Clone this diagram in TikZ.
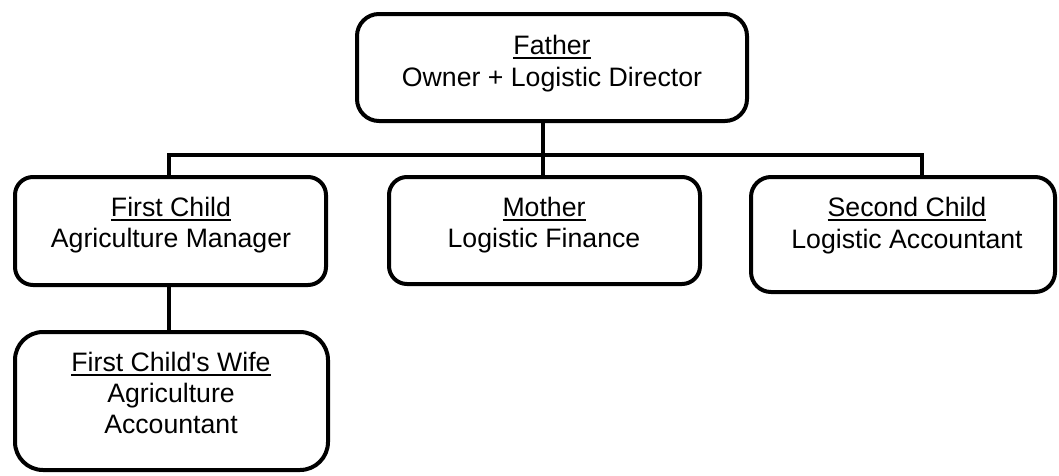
\documentclass[tikz,border=0pt]{standalone}
\usepackage{fontspec}
\setmainfont{Liberation Sans}
\newcommand\myul[1]{\setbox0\hbox{#1}\rlap{\rule[-4pt]{\wd0}{1.8pt}}\box0}
\begin{document}
\begin{tikzpicture}[x=0.75pt,y=-0.75pt,
  box/.style={draw=black,line width=3pt,rectangle,inner sep=0pt,fill=white},
  txt/.style={anchor=base,inner sep=0pt,font=\fontsize{20pt}{23pt}\selectfont},
  wire/.style={draw=black,line width=3pt,line cap=rect}]
\useasboundingbox[fill=white] (0,0) rectangle (1059,475);

\coordinate (busL) at (169,155);
\coordinate (busR) at (922,155);
\coordinate (fdrop) at (543,121);

% boxes
\node[box,rounded corners=16.5pt,minimum width=292.5pt,minimum height=80.25pt] (father) at (552,67.5) {};
\node[box,rounded corners=13.5pt,minimum width=233.25pt,minimum height=81pt] (first) at (170.5,231) {};
\node[box,rounded corners=13.5pt,minimum width=233.25pt,minimum height=80.25pt] (mother) at (544.5,230.5) {};
\node[box,rounded corners=15pt,minimum width=228pt,minimum height=86.25pt] (second) at (903,234.5) {};
\node[box,rounded corners=21pt,minimum width=234.75pt,minimum height=103.5pt] (wife) at (171.5,401) {};

% connectors
\draw[wire] (busL) -- (busR);
\draw[wire] (fdrop) -- (fdrop |- mother.north);
\draw[wire] (busL) -- (busL |- first.north);
\draw[wire] (busR) -- (busR |- second.north);
\draw[wire] (busL |- first.south) -- (busL |- wife.north);

% texts
\node[txt] (fatherA) at (552,54) {\myul{Father}};
\node[txt] (fatherB) at (552,86) {Owner + Logistic Director};
\node[txt] (firstA) at (171,216) {\myul{First Child}};
\node[txt] (firstB) at (171,247) {Agriculture Manager};
\node[txt] (motherA) at (544,216) {\myul{Mother}};
\node[txt] (motherB) at (544,247) {Logistic Finance};
\node[txt] (secondA) at (907,216) {\myul{Second Child}};
\node[txt] (secondB) at (907,248) {Logistic Accountant};
\node[txt] (wifeA) at (171,371) {\myul{First Child\textquotesingle s Wife}};
\node[txt] (wifeB) at (171,402) {Agriculture};
\node[txt] (wifeC) at (171,433) {Accountant};
\end{tikzpicture}
\end{document}
